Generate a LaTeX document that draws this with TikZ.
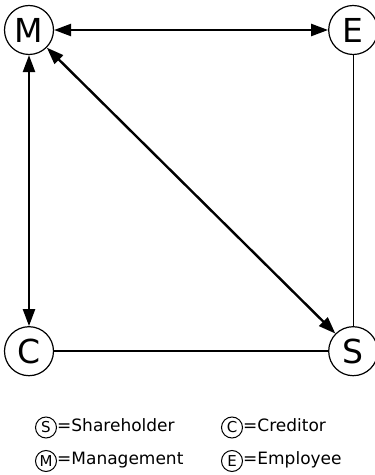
\documentclass[tikz,border=0pt]{standalone}
\usepackage{fontspec}
\setmainfont{DejaVu Sans}
\usetikzlibrary{positioning,arrows.meta}

\begin{document}
\begin{tikzpicture}[x=1pt, y=1pt, node distance=274pt,
  party/.style={draw, circle, line width=1.2pt, minimum size=49pt, inner sep=0pt, font=\fontsize{33}{33}\selectfont},
  key/.style={draw, circle, line width=1pt, minimum size=21pt, inner sep=0pt, font=\fontsize{15}{15}\selectfont},
  keytext/.style={inner sep=0pt, text height=12pt, text depth=4pt, font=\fontsize{17}{17}\selectfont},
  link/.style={line width=2.4pt, {Triangle[length=17pt,width=12pt]}-{Triangle[length=17pt,width=12pt]}},
  tie/.style={line width=1.4pt}]
  \useasboundingbox (0,0) rectangle (375,475);
  \node[party] (M) at (29,445) {M};
  \node[party, right=of M] (E) {E};
  \node[party, below=271pt of M] (C) {C};
  \node[party, right=of C] (S) {S};
  \draw[link] (M) -- (E);
  \draw[link] (M) -- (C);
  \draw[link] (M) -- (S);
  \draw[tie] (E) -- (S);
  \draw[tie] (C) -- (S);
  % legend
  \node[key] (kS) at (46,47.5) {S};
  \node[keytext, right=0pt of kS] (tS) {=Shareholder};
  \node[key] (kC) at (232,47.5) {C};
  \node[keytext, right=0pt of kC] (tC) {=Creditor};
  \node[key] (kM) at (46,14) {M};
  \node[keytext, right=0pt of kM] (tM) {=Management};
  \node[key] (kE) at (232,14) {E};
  \node[keytext, right=0pt of kE] (tE) {=Employee};
\end{tikzpicture}
\end{document}
